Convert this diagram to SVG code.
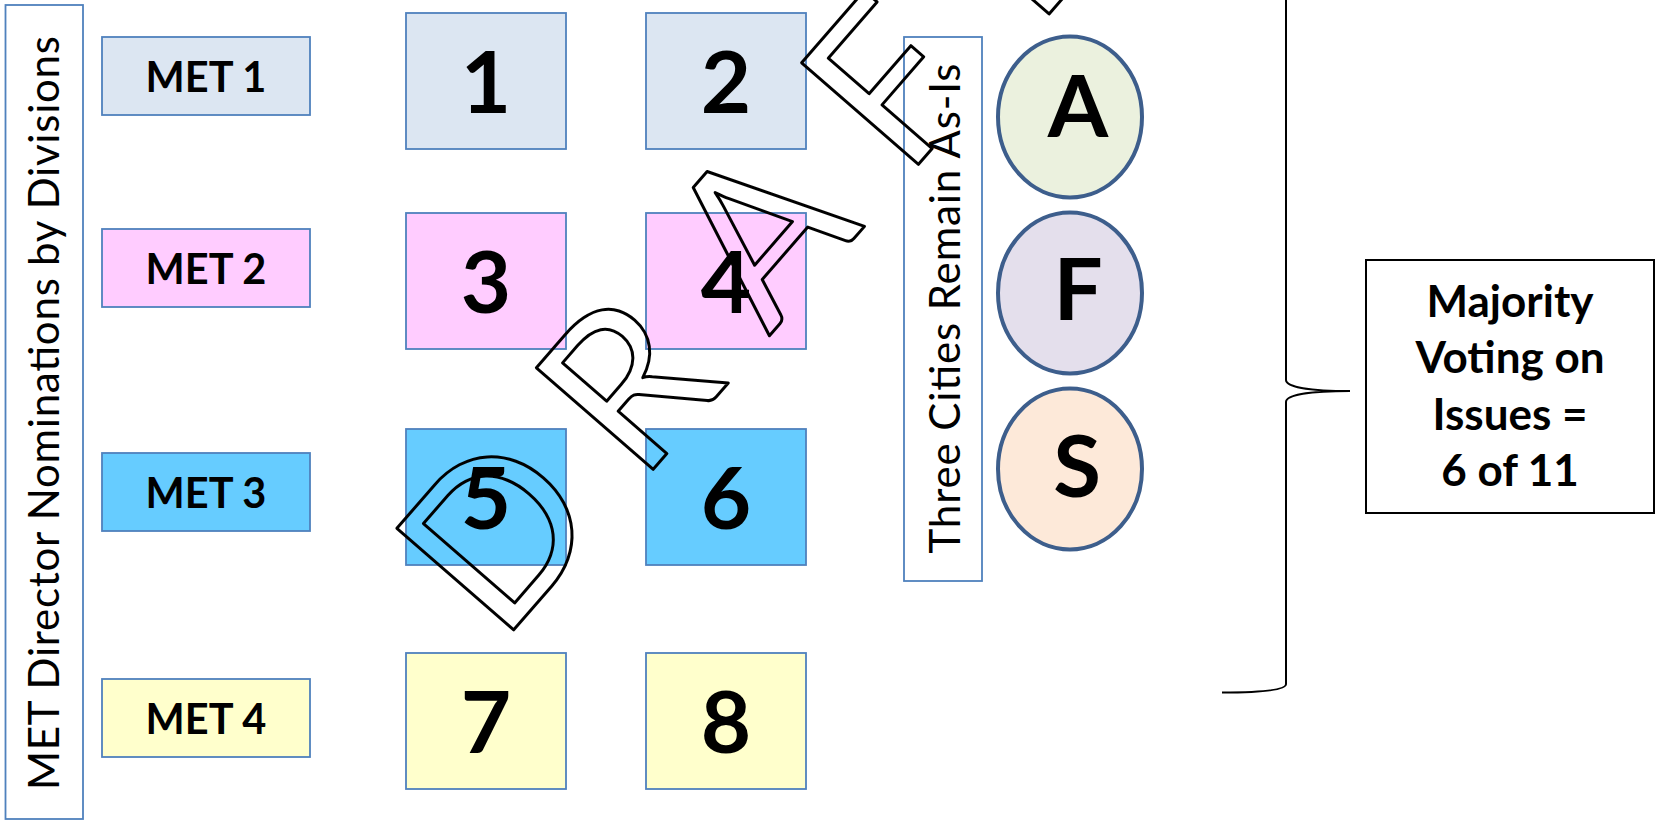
<svg xmlns="http://www.w3.org/2000/svg" width="1656" height="821" viewBox="0 0 1656 821">
<style>
.bx{stroke:#4F81BD;stroke-width:1.8}
.r1{fill:#DCE6F2}.r2{fill:#FFCCFF}.r3{fill:#66CCFF}.r4{fill:#FFFFCC}
.met{font-family:Lato,"Liberation Sans",sans-serif;font-weight:700;font-size:41.5px;text-anchor:middle;fill:#000}
.num{font-family:Lato,"Liberation Sans",sans-serif;font-weight:700;font-size:87px;text-anchor:middle;fill:#000}
.vt{font-family:Lato,"Liberation Sans",sans-serif;font-size:42px;fill:#000;text-anchor:middle}
.cir{stroke:#3D5E8C;stroke-width:4}
.maj{font-family:Lato,"Liberation Sans",sans-serif;font-weight:700;font-size:44px;text-anchor:middle;fill:#000}
.wm{font-family:Lato,"Liberation Sans",sans-serif;font-size:216px;fill:none;stroke:#000;stroke-width:3;stroke-linejoin:round}
</style>
<rect width="1656" height="821" fill="#fff"/>
<g id="nominations-label">
<rect class="bx" x="5.5" y="5" width="77.5" height="814" fill="#fff"/>
<text class="vt" transform="translate(59,413) rotate(-90)" textLength="754" lengthAdjust="spacing">MET Director Nominations by Divisions</text>
</g>
<g id="met1"><rect class="bx r1" x="102" y="37" width="208" height="78"/><text class="met" x="206" y="92">MET 1</text></g>
<g id="met2"><rect class="bx r2" x="102" y="229" width="208" height="78"/><text class="met" x="206" y="284">MET 2</text></g>
<g id="met3"><rect class="bx r3" x="102" y="453" width="208" height="78"/><text class="met" x="206" y="508">MET 3</text></g>
<g id="met4"><rect class="bx r4" x="102" y="679" width="208" height="78"/><text class="met" x="206" y="734">MET 4</text></g>
<g id="seat1"><rect class="bx r1" x="406" y="13" width="160" height="136"/><text class="num" x="486" y="113">1</text></g>
<g id="seat2"><rect class="bx r1" x="646" y="13" width="160" height="136"/><text class="num" x="726" y="113">2</text></g>
<g id="seat3"><rect class="bx r2" x="406" y="213" width="160" height="136"/><text class="num" x="486" y="313">3</text></g>
<g id="seat4"><rect class="bx r2" x="646" y="213" width="160" height="136"/><text class="num" x="726" y="313">4</text></g>
<g id="seat5"><rect class="bx r3" x="406" y="429" width="160" height="136"/><text class="num" x="486" y="529">5</text></g>
<g id="seat6"><rect class="bx r3" x="646" y="429" width="160" height="136"/><text class="num" x="726" y="529">6</text></g>
<g id="seat7"><rect class="bx r4" x="406" y="653" width="160" height="136"/><text class="num" x="486" y="753">7</text></g>
<g id="seat8"><rect class="bx r4" x="646" y="653" width="160" height="136"/><text class="num" x="726" y="753">8</text></g>
<g id="cities-label">
<rect class="bx" x="904" y="37" width="78" height="544" fill="#fff"/>
<text class="vt" transform="translate(960,308.5) rotate(-90)" textLength="490" lengthAdjust="spacing">Three Cities Remain As-Is</text>
</g>
<g id="city-a"><ellipse class="cir" cx="1070" cy="117" rx="72" ry="80.5" fill="#EBF1DE"/><text class="num" x="1078" y="137">A</text></g>
<g id="city-f"><ellipse class="cir" cx="1070" cy="293" rx="72" ry="80.5" fill="#E4DFEC"/><text class="num" x="1078" y="320">F</text></g>
<g id="city-s"><ellipse class="cir" cx="1070" cy="469" rx="72" ry="80.5" fill="#FDE9D9"/><text class="num" x="1077" y="497">S</text></g>
<g id="connectors">
<path d="M1286,-5 V380 C1286,387 1310,391 1350,391 C1310,391 1286,395 1286,402 V684 C1286,690 1262,692.5 1222,692.5" fill="none" stroke="#000" stroke-width="2"/>
</g>
<g id="majority">
<rect x="1366" y="260" width="288" height="253" fill="#fff" stroke="#000" stroke-width="2"/>
<text class="maj" x="1510" y="317">Majority</text>
<text class="maj" x="1510" y="373">Voting on</text>
<text class="maj" x="1510" y="430">Issues =</text>
<text class="maj" x="1510" y="486">6 of 11</text>
</g>
<g id="watermark" transform="translate(513,633) rotate(-49)">
<text class="wm" x="-17 195.7 392 600 765.5" y="-1.5">DRAFT</text>
</g>
</svg>
